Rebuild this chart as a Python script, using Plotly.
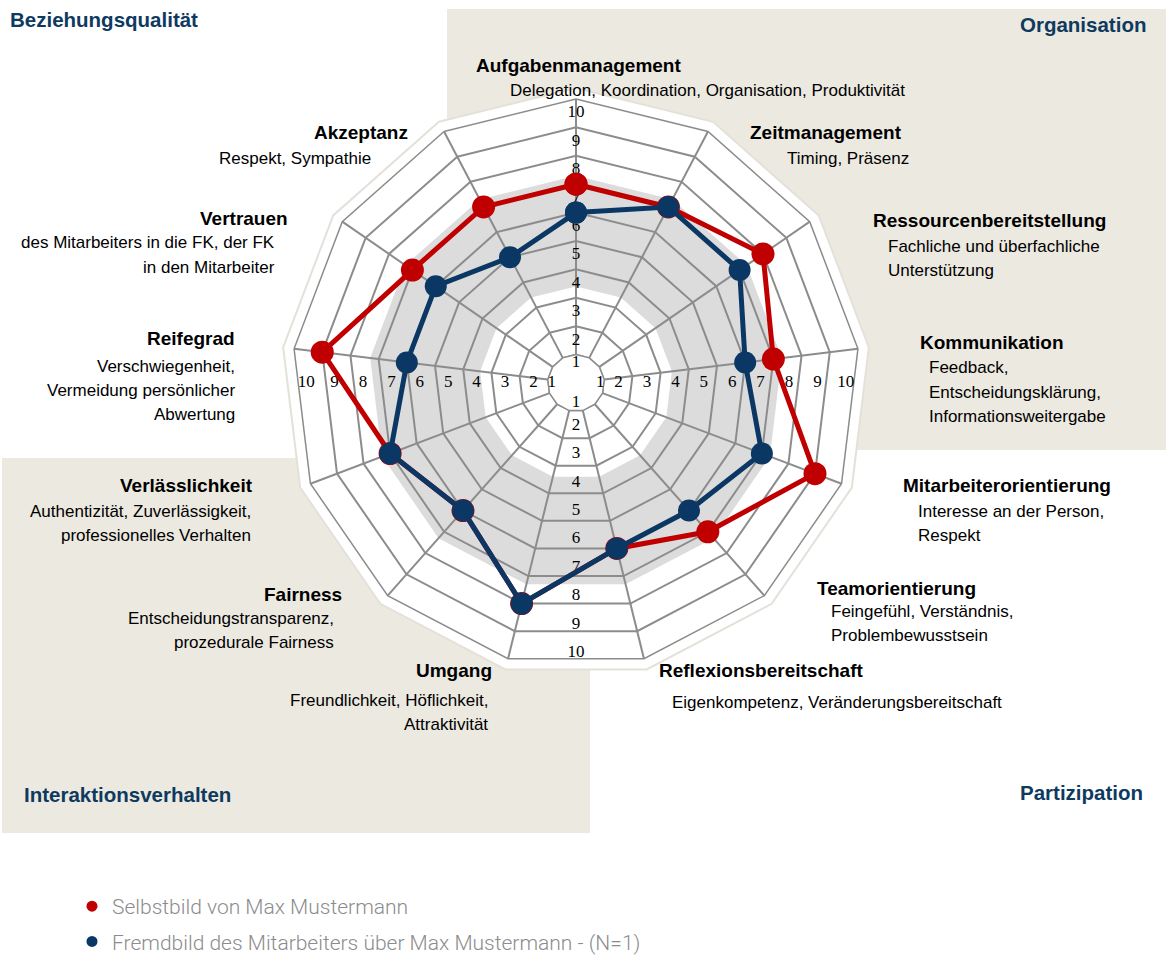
import plotly.graph_objects as go

# ---------------- data ----------------
categories = ["Aufgabenmanagement", "Zeitmanagement", "Ressourcenbereitstellung", "Kommunikation",
              "Mitarbeiterorientierung", "Teamorientierung", "Reflexionsbereitschaft", "Umgang",
              "Fairness", "Verlässlichkeit", "Reifegrad", "Vertrauen", "Akzeptanz"]
descriptions = [
    ["Delegation, Koordination, Organisation, Produktivität"],
    ["Timing, Präsenz"],
    ["Fachliche und überfachliche", "Unterstützung"],
    ["Feedback,", "Entscheidungsklärung,", "Informationsweitergabe"],
    ["Interesse an der Person,", "Respekt"],
    ["Feingefühl, Verständnis,", "Problembewusstsein"],
    ["Eigenkompetenz, Veränderungsbereitschaft"],
    ["Freundlichkeit, Höflichkeit,", "Attraktivität"],
    ["Entscheidungstransparenz,", "prozedurale Fairness"],
    ["Authentizität, Zuverlässigkeit,", "professionelles Verhalten"],
    ["Verschwiegenheit,", "Vermeidung persönlicher", "Abwertung"],
    ["des Mitarbeiters in die FK, der FK", "in den Mitarbeiter"],
    ["Respekt, Sympathie"],
]
selbstbild = [7, 7, 8, 7, 9, 7, 6, 8, 6, 7, 9, 7, 7]
fremdbild = [6, 7, 7, 6, 7, 6, 6, 8, 6, 7, 6, 6, 5]
series_names = ["Selbstbild von Max Mustermann",
                "Fremdbild des Mitarbeiters über Max Mustermann - (N=1)"]
scale_ticks = [1, 2, 3, 4, 5, 6, 7, 8, 9, 10]
quadrant_titles = ["Beziehungsqualität", "Organisation", "Interaktionsverhalten", "Partizipation"]
band_range = [3.4, 7.3]

# ---------------- styling / layout ----------------
W, H = 1169, 965
CX, CY, R = 576, 383, 284
HALO = 11
RED = "#c00000"
BLUE = "#0b3764"
GRID = "#8c8c8c"
NAVY = "#0e3a5f"
BEIGE = "#ece9e0"
FONT = "Liberation Sans, Arial, sans-serif"


def px(x):
    return x / W


def py(y):
    return 1 - y / H


def dom(rad):
    return dict(x=[px(CX - rad), px(CX + rad)], y=[py(CY + rad), py(CY - rad)])


domain = dom(R)
n = len(categories)
step = 360.0 / n
theta_num = [i * step for i in range(n)]
cats_closed = categories + [categories[0]]

fig = go.Figure()

# white halo behind the web (empty trace just to create the subplot)
fig.add_trace(go.Scatterpolar(theta=[categories[0]], r=[None], mode="lines",
                              hoverinfo="skip", showlegend=False, subplot="polar"))

# gray band (under the grid)
fig.add_trace(go.Scatterpolar(
    theta=cats_closed + cats_closed[::-1],
    r=[band_range[1]] * (n + 1) + [band_range[0]] * (n + 1),
    mode="lines", fill="toself", fillcolor="#dcdcdc",
    line=dict(width=0, color="#dcdcdc"),
    hoverinfo="skip", showlegend=False, subplot="polar2"))

# innermost ring of the grid
fig.add_trace(go.Scatterpolar(
    theta=cats_closed, r=[scale_ticks[0]] * (n + 1), mode="lines",
    line=dict(color=GRID, width=1.5), hoverinfo="skip", showlegend=False,
    subplot="polar3"))

# scale numbers along the four directions
dir_angles = [0, 90, 180, 270]
inner_pos = ["bottom center", "middle left", "top center", "middle right"]
for ang, ipos in zip(dir_angles, inner_pos):
    rr, tt, pos = [], [], []
    for k in scale_ticks:
        rr.append(k - 0.5 if k > 1 else k)
        tt.append(ang)
        pos.append("middle center" if k > 1 else ipos)
    fig.add_trace(go.Scatterpolar(
        r=rr, theta=tt, mode="text", text=[str(k) for k in scale_ticks],
        textposition=pos,
        textfont=dict(family="Liberation Serif, DejaVu Serif, serif", size=17, color="black"),
        hoverinfo="skip", showlegend=False, subplot="polar4"))

# data series
for vals, col, size in [(selbstbild, RED, 23), (fremdbild, BLUE, 22)]:
    fig.add_trace(go.Scatterpolar(
        r=vals + [vals[0]], theta=theta_num + [theta_num[0]],
        mode="lines+markers", line=dict(color=col, width=5),
        marker=dict(size=size, color=col),
        hoverinfo="skip", showlegend=False, subplot="polar4"))

# legend entries (dots only)
for name, col in zip(series_names, [RED, BLUE]):
    fig.add_trace(go.Scatterpolar(
        r=[None], theta=[None], mode="markers", name=name,
        marker=dict(size=11, color=col), legendgroup=name,
        showlegend=True, subplot="polar4"))

hole_r = 0.1 * R + 1
cat_axis_hidden = dict(type="category", categoryarray=categories, rotation=90,
                       direction="clockwise", showgrid=False, showline=False,
                       showticklabels=False, ticks="")
fig.update_layout(
    width=W, height=H, margin=dict(l=0, r=0, t=0, b=0),
    paper_bgcolor="white",
    polar=dict(
        domain=dom(R + HALO), bgcolor="white", gridshape="linear",
        angularaxis=dict(type="category", categoryarray=categories, rotation=90,
                         direction="clockwise", showgrid=False, showline=True,
                         linecolor="#e4e1da", linewidth=2,
                         showticklabels=False, ticks=""),
        radialaxis=dict(range=[0, 10], showgrid=False, showline=False,
                        showticklabels=False, ticks="")),
    polar2=dict(
        domain=domain, hole=0.1, bgcolor="white", gridshape="linear",
        angularaxis=cat_axis_hidden,
        radialaxis=dict(range=[1, 10], showgrid=False, showline=False,
                        showticklabels=False, ticks="")),
    polar3=dict(
        domain=domain, hole=0.1, bgcolor="rgba(0,0,0,0)", gridshape="linear",
        angularaxis=dict(type="category", categoryarray=categories, rotation=90,
                         direction="clockwise", showgrid=True, gridcolor=GRID, gridwidth=1.5,
                         showline=True, linecolor=GRID, linewidth=1.5,
                         showticklabels=False, ticks=""),
        radialaxis=dict(range=[1, 10], tickvals=scale_ticks, showgrid=True, gridcolor=GRID,
                        gridwidth=1.5, showline=False, showticklabels=False, ticks="")),
    polar4=dict(
        domain=domain, hole=0.1, bgcolor="rgba(0,0,0,0)",
        angularaxis=dict(type="linear", rotation=90, direction="clockwise", visible=False),
        radialaxis=dict(range=[1, 10], visible=False)),
    legend=dict(x=px(72), y=py(886), xanchor="left", yanchor="top",
                font=dict(family="Roboto, Liberation Sans, sans-serif", size=21,
                          color="#8c8c8c", weight=300),
                tracegroupgap=5, bgcolor="rgba(0,0,0,0)", itemsizing="trace"),
    shapes=[
        dict(type="rect", xref="paper", yref="paper", x0=px(447), x1=px(1166),
             y0=py(450), y1=py(9), fillcolor=BEIGE, line=dict(width=0), layer="below"),
        dict(type="rect", xref="paper", yref="paper", x0=px(2), x1=px(590),
             y0=py(833), y1=py(458), fillcolor=BEIGE, line=dict(width=0), layer="below"),
        dict(type="circle", xref="paper", yref="paper", x0=px(CX - hole_r), x1=px(CX + hole_r),
             y0=py(CY + hole_r), y1=py(CY - hole_r), fillcolor="white",
             line=dict(width=0), layer="below"),
    ],
)

annotations = []
# quadrant titles: (x, y, anchor)
quad_pos = [(8, 20, "left"), (1148, 25, "right"), (22, 794, "left"), (1145, 792, "right")]
for txt, (x, y, anc) in zip(quadrant_titles, quad_pos):
    annotations.append(dict(text=txt, x=px(x), y=py(y), xref="paper", yref="paper",
                            xanchor=anc, yanchor="middle", showarrow=False,
                            font=dict(family=FONT, size=20.5, color=NAVY, weight="bold")))

# category labels: (title_x, title_y, desc_x, first_desc_y, anchor)
label_pos = [
    (474, 65, 508, 90, "left"),
    (748, 133, 785, 158, "left"),
    (871, 220, 886, 246, "left"),
    (918, 342, 927, 368, "left"),
    (901, 486, 916, 511, "left"),
    (815, 588, 829, 611, "left"),
    (657, 670, 670, 702, "left"),
    (494, 670, 490, 700, "right"),
    (344, 594, 336, 618, "right"),
    (255, 486, 253, 511, "right"),
    (237, 338, 237, 366, "right"),
    (290, 218, 277, 243, "right"),
    (410, 133, 373, 158, "right"),
]
LINE = 24.3
for cat, desc, (tx, ty, dx, dy, anc) in zip(categories, descriptions, label_pos):
    annotations.append(dict(text=cat, x=px(tx), y=py(ty), xref="paper", yref="paper",
                            xanchor=anc, yanchor="middle", showarrow=False,
                            font=dict(family=FONT, size=19, color="black", weight="bold")))
    for j, line in enumerate(desc):
        annotations.append(dict(text=line, x=px(dx), y=py(dy + j * LINE), xref="paper",
                                yref="paper", xanchor=anc, yanchor="middle", showarrow=False,
                                font=dict(family=FONT, size=17, color="black")))

fig.update_layout(annotations=annotations)
fig.write_html("out.html", config={"displayModeBar": False},
               post_script="document.body.style.margin='0';document.body.style.overflow='hidden';")
